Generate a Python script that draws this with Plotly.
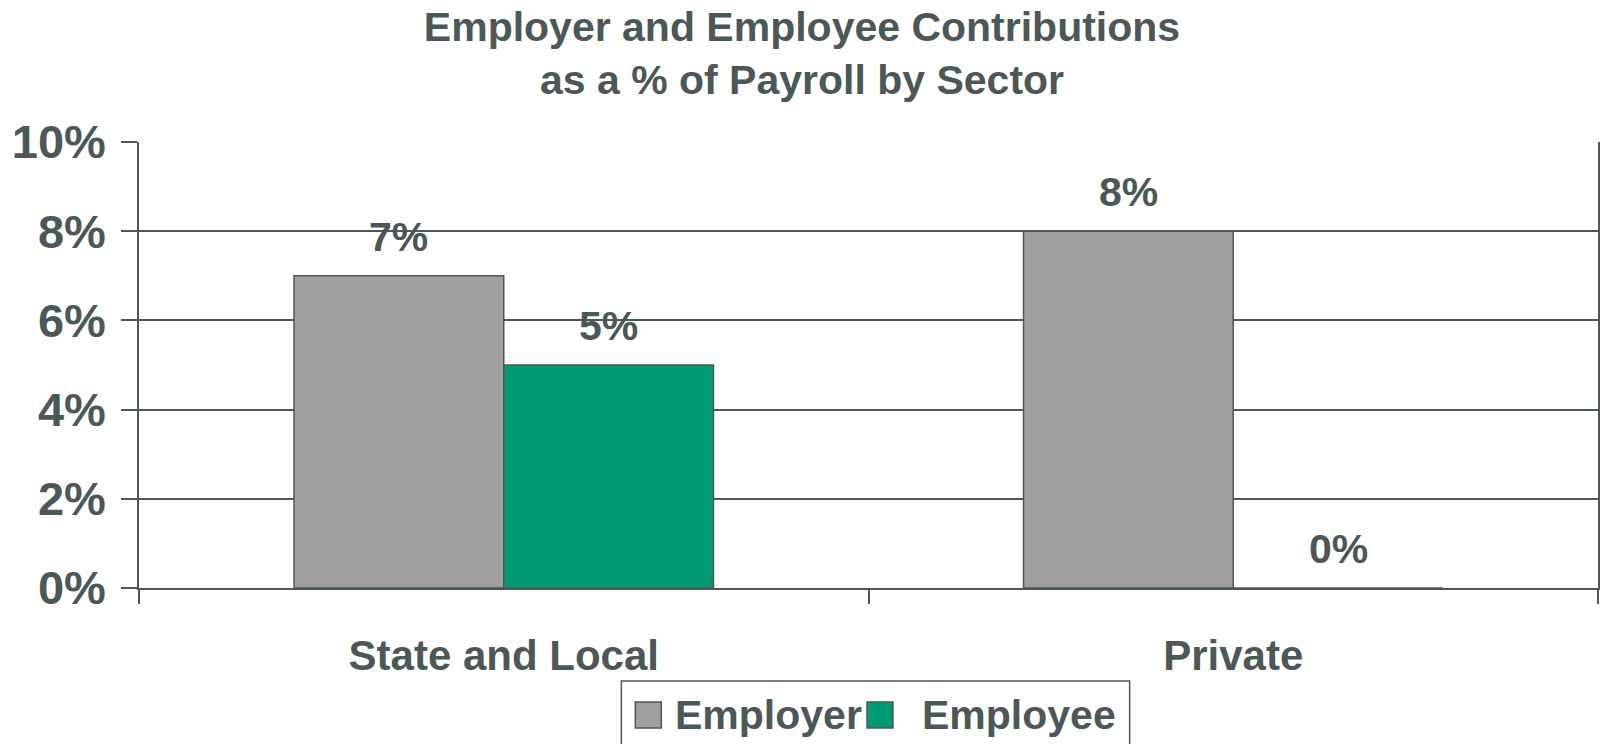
import plotly.graph_objects as go

# Chart data
sectors = ["State and Local", "Private"]
series_names = ["Employer", "Employee"]
employer = [0.07, 0.08]
employee = [0.05, 0.00]
series_values = [employer, employee]
y_ticks = [0, 0.02, 0.04, 0.06, 0.08, 0.10]

title_lines = ["Employer and Employee Contributions", "as a % of Payroll by Sector"]

# Styling
FONT = "Liberation Sans, Arial, sans-serif"
TEXT = "#4C5858"
LINE = "#4E5757"
COLORS = ["#A09F9D", "#009A74"]
BARGAP = 0.425

W, H = 1604, 744
M = dict(l=139, r=4, t=142, b=156)
PW = W - M["l"] - M["r"]
PH = H - M["t"] - M["b"]


def px_x(px):
    return (px - M["l"]) / PW


def px_y(py):
    return (H - M["b"] - py) / PH


fig = go.Figure()
for name, vals, color in zip(series_names, series_values, COLORS):
    fig.add_trace(go.Bar(
        x=sectors, y=vals, name=name,
        marker=dict(color=color, line=dict(color=LINE, width=1.5)),
        showlegend=False, hoverinfo="skip",
    ))

# Value labels above each bar, positioned on the category axis
n = len(series_values)
bar_w = (1 - BARGAP) / n
annotations = []
for j, vals in enumerate(series_values):
    off = (j - (n - 1) / 2) * bar_w
    for i, v in enumerate(vals):
        annotations.append(dict(
            x=i + off, y=v, xref="x", yref="y",
            text=f"{v * 100:.0f}%", showarrow=False,
            yanchor="bottom", yshift=14,
            font=dict(family=FONT, size=41, color=TEXT, weight="bold"),
        ))

# Legend box drawn beneath the axis
shapes = [dict(
    type="rect", xref="paper", yref="paper",
    x0=px_x(622), x1=px_x(1131), y0=px_y(760), y1=px_y(681),
    line=dict(color=LINE, width=1.5), fillcolor="white", layer="above",
)]
legend_items = [(636, 674), (868, 921)]
for (sx, tx), name, color in zip(legend_items, series_names, COLORS):
    shapes.append(dict(
        type="rect", xref="paper", yref="paper",
        x0=px_x(sx), x1=px_x(sx + 26), y0=px_y(728), y1=px_y(702),
        line=dict(color=LINE, width=1.5), fillcolor=color, layer="above",
    ))
    annotations.append(dict(
        x=px_x(tx), y=px_y(715), xref="paper", yref="paper",
        xanchor="left", yanchor="middle", text=name, showarrow=False,
        font=dict(family=FONT, size=41, color=TEXT, weight="bold"),
    ))

fig.update_layout(
    width=W, height=H, margin=M,
    paper_bgcolor="white", plot_bgcolor="white",
    barmode="group", bargap=BARGAP, bargroupgap=0,
    title=dict(
        text="<br>".join(title_lines),
        x=0.5, xref="container", xanchor="center",
        y=0.945, yref="container", yanchor="top",
        font=dict(family=FONT, size=41, color=TEXT, weight="bold"),
    ),
    xaxis=dict(
        type="category", categoryorder="array", categoryarray=sectors,
        showline=True, linecolor=LINE, linewidth=1.5,
        ticks="outside", tickson="boundaries", ticklen=14,
        tickcolor=LINE, tickwidth=1.5, showgrid=False,
        tickfont=dict(family=FONT, size=42, color=TEXT, weight="bold"),
        ticklabelstandoff=30,
    ),
    yaxis=dict(
        range=[0, 0.10], tickvals=y_ticks, tickformat=".0%",
        showgrid=True, gridcolor=LINE, gridwidth=1.5,
        showline=True, linecolor=LINE, linewidth=1.5, mirror=True,
        ticks="outside", ticklen=16, tickcolor=LINE, tickwidth=1.5,
        zeroline=False,
        tickfont=dict(family=FONT, size=47, color=TEXT, weight="bold"),
        ticklabelstandoff=6,
    ),
    annotations=annotations, shapes=shapes,
)

fig.write_html("out.html")
